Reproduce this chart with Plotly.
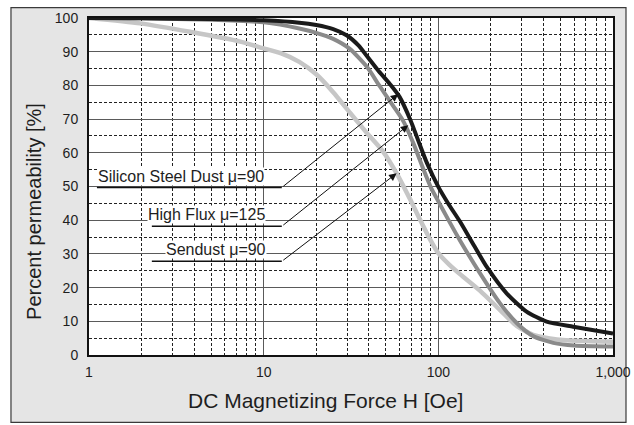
import math
import plotly.graph_objects as go

# ---------------- data ----------------
silicon_H = [1, 2, 5, 10, 16, 20, 25, 30, 35, 39, 45, 53, 60, 69, 76, 86, 100, 115, 133, 160, 189, 246, 320, 417, 592, 1000]
silicon_v = [100, 99.9, 99.7, 99.3, 98.6, 97.9, 96.7, 94.8, 91.8, 88.7, 84.6, 80.3, 76.6, 69.9, 64.2, 57.0, 49.9, 44.6, 39.6, 32.5, 26.2, 18.3, 12.9, 9.9, 8.4, 6.4]

highflux_H = [1, 2, 5, 10, 16, 20, 25, 31, 39, 46, 55, 63, 72, 82, 91, 100, 115, 133, 173, 225, 281, 349, 455, 600, 1000]
highflux_v = [100, 99.9, 99.5, 98.7, 96.9, 95.6, 93.8, 90.9, 85.5, 79.9, 74.0, 69.4, 62.8, 55.2, 49.5, 45.6, 39.8, 34.0, 24.3, 15.4, 9.5, 5.6, 3.6, 2.8, 2.5]

sendust_H = [1, 1.96, 3.79, 7.33, 10, 12.5, 16, 20, 25, 31.2, 38.8, 48.4, 57.7, 68.8, 78.5, 89.5, 100, 115, 133, 173, 225, 281, 349, 495, 1000]
sendust_v = [100, 98.4, 95.9, 93, 91, 89.6, 87.0, 83.3, 78.0, 71.9, 66.0, 60.3, 53.9, 46.3, 40.2, 34.4, 30.2, 26.9, 24.0, 19.1, 13.4, 8.6, 6.0, 4.5, 3.9]

x_tickvals = [1, 10, 100, 1000]
x_ticktext = ["1", "10", "100", "1,000"]
y_tickvals = [0, 10, 20, 30, 40, 50, 60, 70, 80, 90, 100]

# labels: text, text anchor (H, v), underline start H, underline v, arrow tip (H, v)
label_text = ["Silicon Steel Dust \u03bc=90", "High Flux \u03bc=125", "Sendust \u03bc=90"]
label_pos_H = [1.11, 2.15, 2.72]
label_pos_v = [53.0, 41.7, 31.3]
underline_start_H = [1.11, 2.29, 2.29]
underline_v = [49.7, 38.2, 27.8]
elbow_H = 12.7
tip_H = [58.9, 67.3, 57.7]
tip_v = [77.4, 68.2, 53.9]

FONT = "Liberation Sans, Arial, sans-serif"
TXT = "#1e1e1e"

fig = go.Figure()

fig.add_trace(go.Scatter(x=sendust_H, y=sendust_v, mode="lines",
                         line=dict(color="#c6c6c6", width=4.5, shape="spline", smoothing=0.6),
                         hoverinfo="skip", showlegend=False))
fig.add_trace(go.Scatter(x=highflux_H, y=highflux_v, mode="lines",
                         line=dict(color="#8a8a8a", width=4, shape="spline", smoothing=0.6),
                         hoverinfo="skip", showlegend=False))
fig.add_trace(go.Scatter(x=silicon_H, y=silicon_v, mode="lines",
                         line=dict(color="#1a1a1a", width=4, shape="spline", smoothing=0.6),
                         hoverinfo="skip", showlegend=False))

# gray outer panel and white plotting area
fig.add_shape(type="rect", xref="paper", yref="paper",
              x0=-0.1489, x1=1.0248, y0=-0.1997, y1=1.031,
              fillcolor="#e5e5e5", line=dict(color="#3a3a3a", width=1.2), layer="below")
fig.add_shape(type="rect", xref="x domain", yref="y domain", x0=0, x1=1, y0=0, y1=1,
              fillcolor="white", line=dict(width=0), layer="below")

annotations = []
for i in range(3):
    # underline
    fig.add_trace(go.Scatter(x=[underline_start_H[i], elbow_H], y=[underline_v[i], underline_v[i]],
                             mode="lines", line=dict(color="#111", width=1.5),
                             hoverinfo="skip", showlegend=False))
    # label text with white box
    annotations.append(dict(x=math.log10(label_pos_H[i]), y=label_pos_v[i], xref="x", yref="y",
                            text=label_text[i], showarrow=False, xanchor="left", yanchor="middle",
                            bgcolor="white", borderpad=0,
                            font=dict(family=FONT, size=16, color=TXT)))
    # leader arrow
    annotations.append(dict(x=math.log10(tip_H[i]), y=tip_v[i], xref="x", yref="y",
                            ax=math.log10(elbow_H), ay=underline_v[i], axref="x", ayref="y",
                            text="", showarrow=True, arrowhead=2, arrowsize=1.5,
                            arrowwidth=1, arrowcolor="#111", standoff=0, startstandoff=0))

annotations.append(dict(x=-0.105, y=0.4275, xref="paper", yref="paper",
                        text="Percent permeability [%]", textangle=-90, showarrow=False,
                        xanchor="center", yanchor="middle",
                        font=dict(family=FONT, size=20, color=TXT)))
annotations.append(dict(x=0.4504, y=-0.1346, xref="paper", yref="paper",
                        text="DC Magnetizing Force H [Oe]", showarrow=False,
                        xanchor="center", yanchor="middle",
                        font=dict(family=FONT, size=21, color=TXT)))

x_minor = [m * d for d in (1, 10, 100) for m in range(2, 10)]
y_minor = [v + 5 for v in y_tickvals[:-1]]

fig.update_layout(
    width=634, height=425,
    margin=dict(l=89, r=21, t=18, b=70),
    paper_bgcolor="white", plot_bgcolor="white",
    annotations=annotations,
    font=dict(family=FONT, size=14, color=TXT),
    xaxis=dict(type="log", range=[0, 3], tickvals=x_tickvals, ticktext=x_ticktext,
               showgrid=True, gridcolor="#5a5a5a", gridwidth=1,
               minor=dict(tickvals=x_minor, showgrid=True, gridcolor="#222",
                          griddash="3px,2px", gridwidth=1, ticks=""),
               showline=True, linecolor="#111", linewidth=2, mirror=True,
               ticks="", zeroline=False, ticklabelstandoff=3, automargin=False,
               tickfont=dict(family=FONT, size=14, color=TXT)),
    yaxis=dict(range=[0, 100], tickvals=y_tickvals,
               showgrid=True, gridcolor="#5a5a5a", gridwidth=1,
               minor=dict(tickvals=y_minor, showgrid=True, gridcolor="#222",
                          griddash="3px,2px", gridwidth=1, ticks=""),
               showline=True, linecolor="#111", linewidth=2, mirror=True,
               ticks="", zeroline=False, ticklabelstandoff=6, automargin=False,
               tickfont=dict(family=FONT, size=14, color=TXT)),
)

fig.write_html("out.html", config={"displayModeBar": False},
               post_script="document.body.style.margin='0';document.body.style.padding='0';"
                           "document.documentElement.style.overflow='hidden';")
